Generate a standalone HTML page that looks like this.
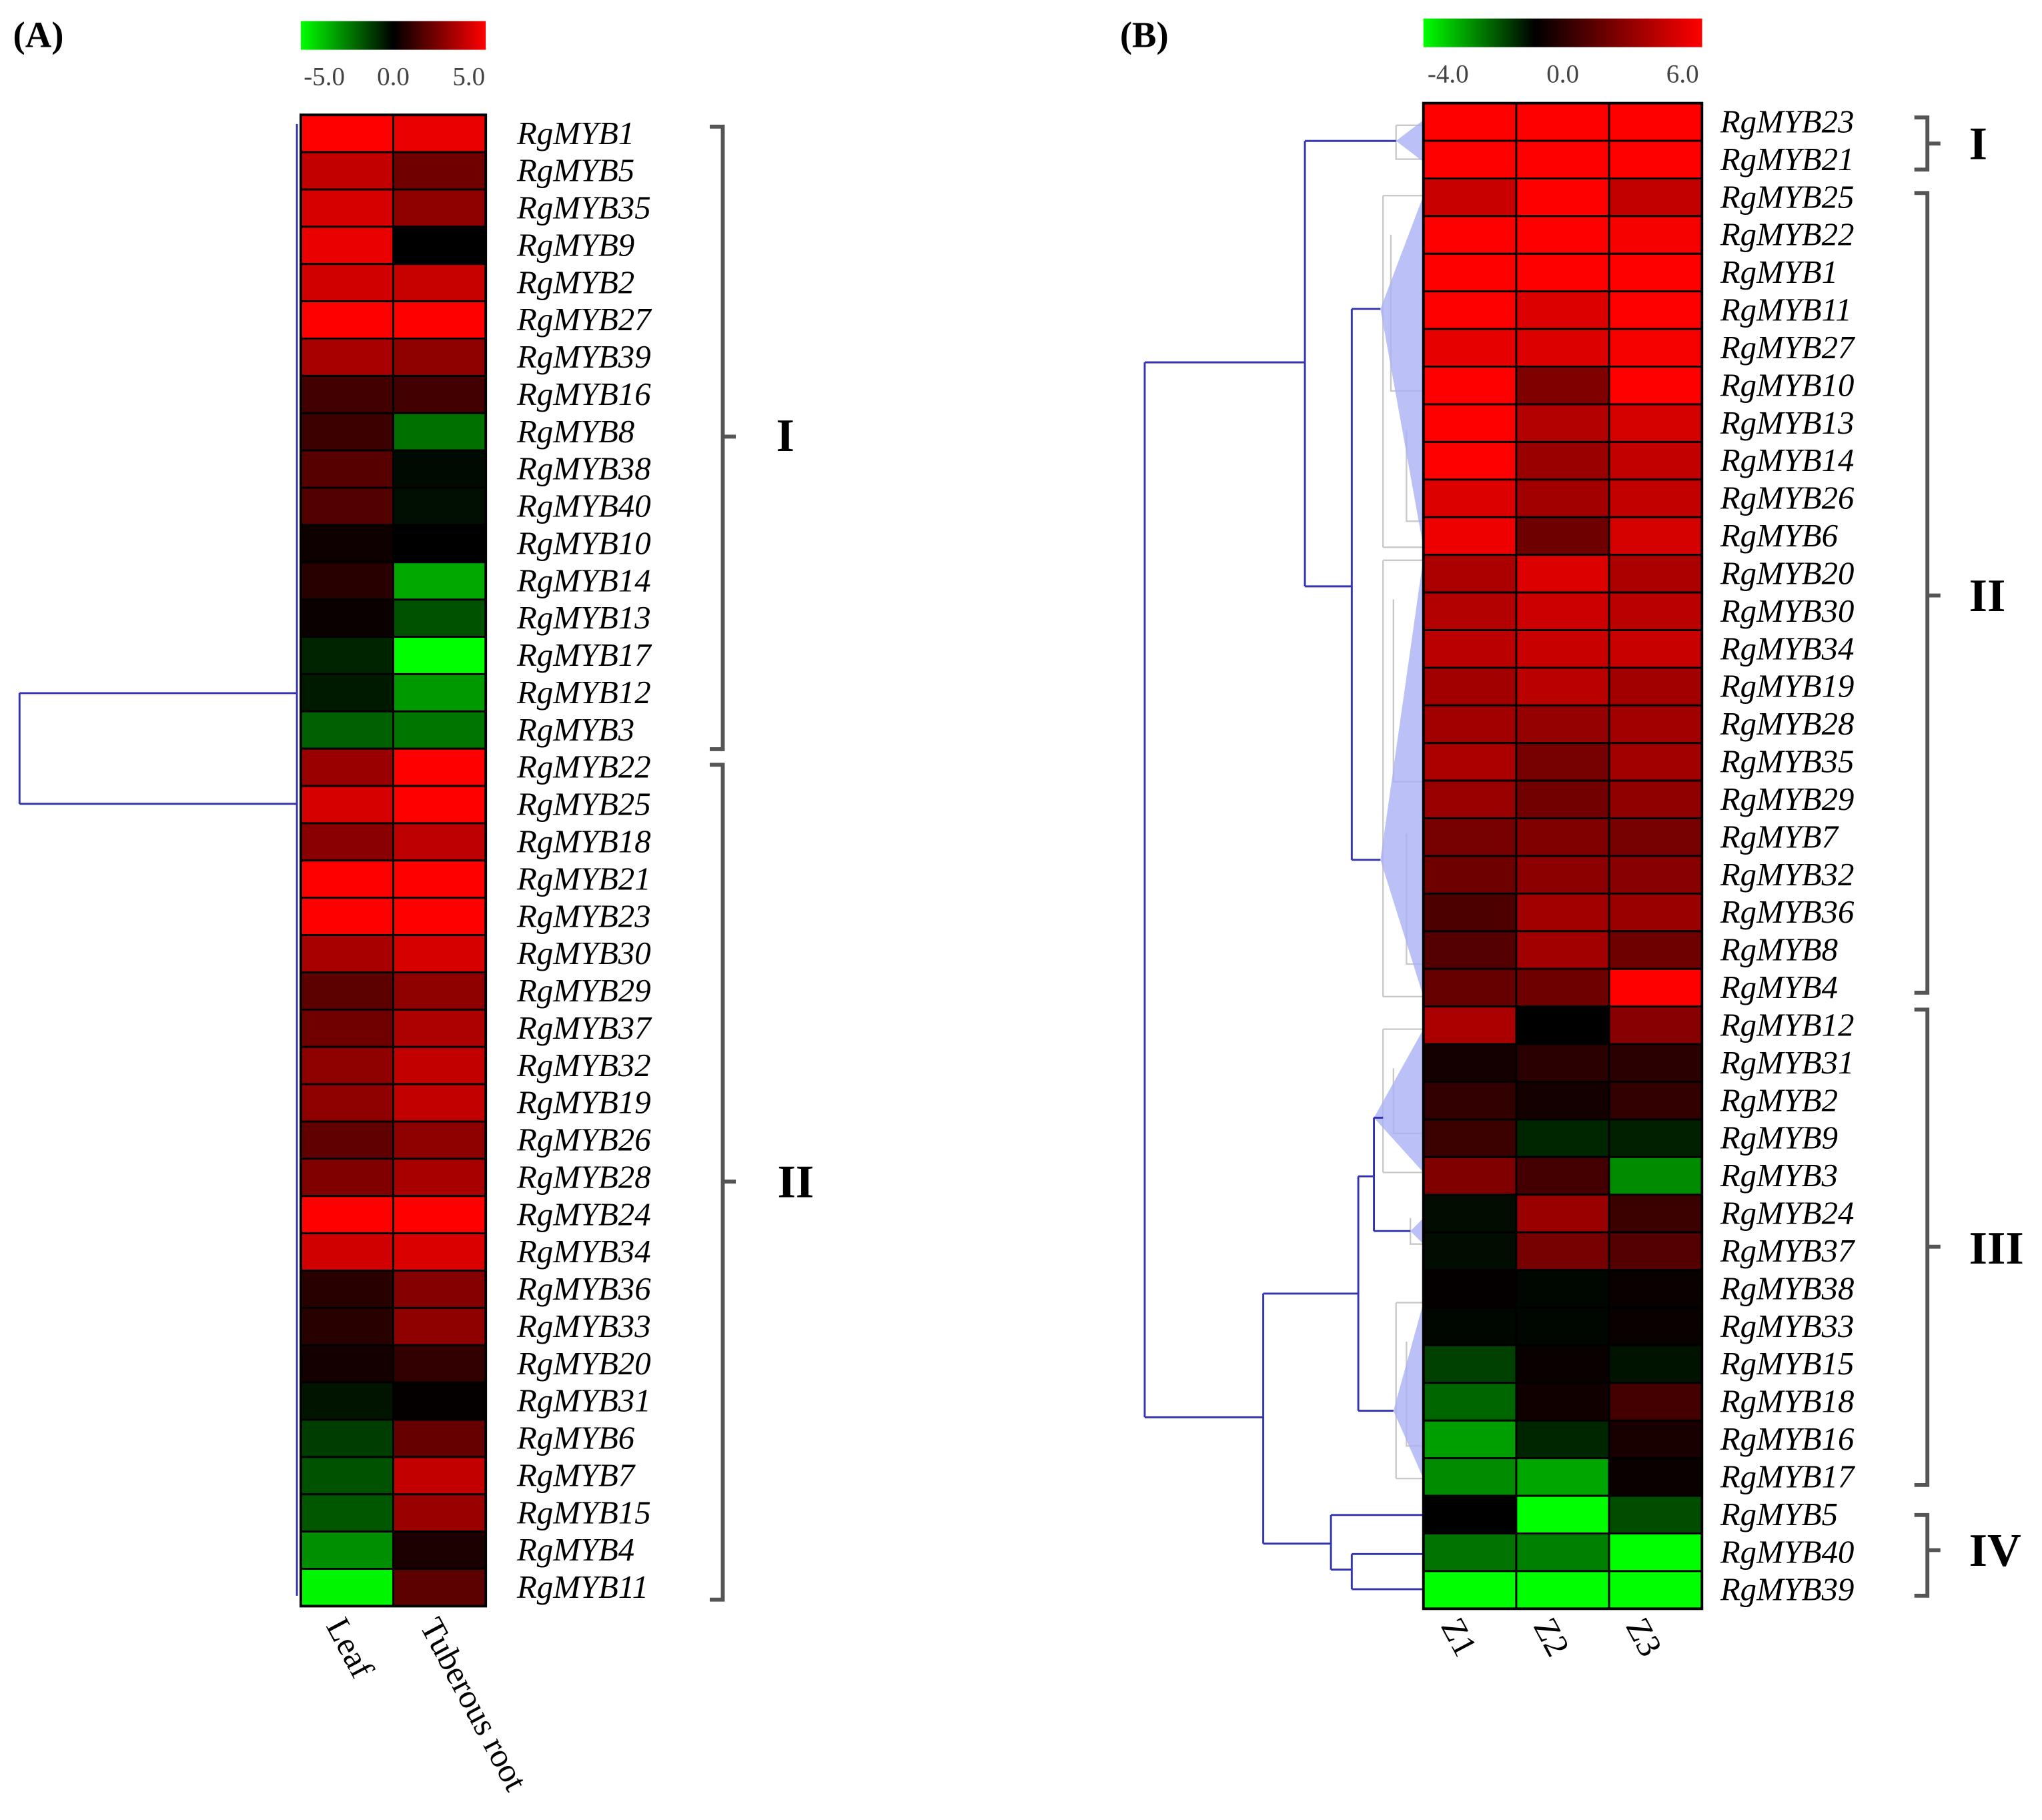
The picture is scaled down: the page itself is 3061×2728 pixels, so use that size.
<!DOCTYPE html>
<html><head><meta charset="utf-8"><style>
html,body{margin:0;padding:0;background:#fff;}
svg{display:block;}
text{font-family:"Liberation Serif",serif;}
</style></head><body>
<svg id="fig" width="3061" height="2728" viewBox="0 0 1568 1397" xmlns="http://www.w3.org/2000/svg">
<defs>
<linearGradient id="gA" x1="0" x2="1"><stop offset="0" stop-color="#00ff00"/><stop offset="0.5" stop-color="#000"/><stop offset="1" stop-color="#ff0000"/></linearGradient>
<linearGradient id="gB" x1="0" x2="1"><stop offset="0" stop-color="#00ff00"/><stop offset="0.4" stop-color="#000"/><stop offset="1" stop-color="#ff0000"/></linearGradient>
</defs>
<text x="10" y="36" font-size="28" font-weight="bold">(A)</text>
<text x="860" y="36" font-size="28" font-weight="bold">(B)</text>
<rect x="231" y="16" width="142" height="22" fill="url(#gA)"/>
<g font-size="20" fill="#444">
<text x="249" y="65" text-anchor="middle" font-family="Liberation Sans,sans-serif">-5.0</text>
<text x="302" y="65" text-anchor="middle" font-family="Liberation Sans,sans-serif">0.0</text>
<text x="360" y="65" text-anchor="middle" font-family="Liberation Sans,sans-serif">5.0</text></g>
<rect x="1093" y="14" width="214" height="22" fill="url(#gB)"/>
<g font-size="20" fill="#444">
<text x="1112" y="63" text-anchor="middle" font-family="Liberation Sans,sans-serif">-4.0</text>
<text x="1200" y="63" text-anchor="middle" font-family="Liberation Sans,sans-serif">0.0</text>
<text x="1292" y="63" text-anchor="middle" font-family="Liberation Sans,sans-serif">6.0</text></g>
<g id="dendB">
<g stroke="#c8c8c8" stroke-width="1.2" fill="none">
<path d="M1072,96V122H1093M1072,96H1093M1062,150V420M1062,150H1093M1062,420H1093M1068,180V300H1093M1080,330V400H1093M1062,430V765M1062,430H1093M1062,765H1093M1070,460V600H1093M1080,640V740H1093M1062,790V900M1062,790H1093M1062,900H1093M1070,820V870H1093M1083,935V955H1093M1072,1000V1135M1072,1000H1093M1072,1135H1093M1080,1030V1110H1093"/>
</g>
<g fill="#aab0f5" opacity="0.8">
<polygon points="1072,108 1093,92 1093,124"/>
<polygon points="1060,237 1093,150 1093,420"/>
<polygon points="1060,660 1093,428 1093,765"/>
<polygon points="1055,858 1093,790 1093,900"/>
<polygon points="1083,945 1093,935 1093,955"/>
<polygon points="1070,1083 1093,1000 1093,1135"/>
</g>
<g stroke="#3535b0" stroke-width="1.5" fill="none">
<path d="M879,278V1088M879,278H1002M879,1088H970M1002,108V450M1002,108H1072M1002,450H1038M1038,237V660M1038,237H1060M1038,660H1060M970,993V1185M970,993H1043M1043,903V1083M1043,903H1055M1043,1083H1070M1055,858V945M1055,858H1062M1055,945H1083M970,1185H1022M1022,1163V1205M1022,1163H1093M1022,1205H1038M1038,1193V1220M1038,1193H1093M1038,1220H1093"/>
</g></g>
<g stroke="#3535b0" stroke-width="1.5" fill="none">
<path d="M15,532V617M15,532H228M15,617H228M228,95V1225"/></g>
<g id="heatA"></g>
<g id="heatB"></g>
<g stroke="#555" stroke-width="3" fill="none">
<path d="M545,97H555V575H545M555,335H565"/>
<path d="M545,587H555V1228H545M555,907H565"/>
<path d="M1470,90H1480V130H1470M1480,110H1490"/>
<path d="M1470,148H1480V762H1470M1480,457H1490"/>
<path d="M1470,775H1480V1140H1470M1480,957H1490"/>
<path d="M1470,1163H1480V1225H1470M1480,1190H1490"/>
</g>
<g font-size="36" font-weight="bold">
<text x="596" y="346">I</text><text x="597" y="919">II</text>
<text x="1512" y="122">I</text><text x="1512" y="469">II</text>
<text x="1512" y="970">III</text><text x="1512" y="1202">IV</text></g>
<g font-size="26">
<text transform="translate(250,1248) rotate(62)">Leaf</text>
<text transform="translate(322,1248) rotate(62)">Tuberous root</text>
<text transform="translate(1106,1248) rotate(62)">Z1</text>
<text transform="translate(1177,1248) rotate(62)">Z2</text>
<text transform="translate(1248,1248) rotate(62)">Z3</text></g>
<script>
const genesA=["RgMYB1","RgMYB5","RgMYB35","RgMYB9","RgMYB2","RgMYB27","RgMYB39","RgMYB16","RgMYB8","RgMYB38","RgMYB40","RgMYB10","RgMYB14","RgMYB13","RgMYB17","RgMYB12","RgMYB3","RgMYB22","RgMYB25","RgMYB18","RgMYB21","RgMYB23","RgMYB30","RgMYB29","RgMYB37","RgMYB32","RgMYB19","RgMYB26","RgMYB28","RgMYB24","RgMYB34","RgMYB36","RgMYB33","RgMYB20","RgMYB31","RgMYB6","RgMYB7","RgMYB15","RgMYB4","RgMYB11"];
const leafA=[5,3.8,4.2,4.6,4.1,5,3.3,1.3,1.2,1.7,1.6,0.3,0.8,0.2,-0.7,-0.5,-1.9,3,4.2,2.7,5,5,3.3,1.8,2.2,2.8,2.8,1.9,2.5,5,4.1,0.8,0.8,0.4,-0.4,-1.2,-1.6,-1.7,-2.8,-4.8];
const rootA=[4.6,2.2,2.8,0,3.9,5,2.8,1.3,-2.2,-0.2,-0.3,0,-3.3,-1.6,-5,-3,-2.3,5,5,3.7,5,5,4.2,2.8,3.4,3.8,3.8,2.8,3.3,5,4.3,2.6,2.8,1,0.1,2,3.8,3,0.5,1.8];
const genesB=["RgMYB23","RgMYB21","RgMYB25","RgMYB22","RgMYB1","RgMYB11","RgMYB27","RgMYB10","RgMYB13","RgMYB14","RgMYB26","RgMYB6","RgMYB20","RgMYB30","RgMYB34","RgMYB19","RgMYB28","RgMYB35","RgMYB29","RgMYB7","RgMYB32","RgMYB36","RgMYB8","RgMYB4","RgMYB12","RgMYB31","RgMYB2","RgMYB9","RgMYB3","RgMYB24","RgMYB37","RgMYB38","RgMYB33","RgMYB15","RgMYB18","RgMYB16","RgMYB17","RgMYB5","RgMYB40","RgMYB39"];
const z1B=[6,6,4.7,6,6,6,5.4,6,6,6,5.2,5.6,4,4.2,4.4,3.8,3.8,4,3.6,2.8,2.6,1.8,2,2.4,4,0.5,1.2,1.4,3,-0.2,-0.2,0.1,-0.1,-1,-1.6,-2.5,-2.2,0,-1.8,-4];
const z2B=[6,6,6,6,6,5.2,5.2,3,4.2,3.6,3.8,2.6,5.2,4.8,4.7,4.4,3.5,2.8,2.7,3,3.3,3.8,3.8,2.6,0,1,0.5,-0.6,1.6,3.6,2.8,-0.1,-0.1,0.2,0.4,-0.6,-2.6,-4,-2,-4];
const z3B=[6,6,4.6,5.8,6,6,5.8,6,5,4.6,4.6,5,4,4.4,4.7,3.8,3.8,3.8,3.4,2.8,3.2,3.6,2.6,6,3.2,1,1.2,-0.5,-2.2,1.4,2,0.2,0.2,-0.3,1.6,0.6,0.2,-1.2,-4,-4];
const NS="http://www.w3.org/2000/svg";
function col(v,lo,hi){if(v>=0){const t=Math.min(1,v/hi);return `rgb(${Math.round(255*t)},0,0)`;}const t=Math.min(1,v/lo);return `rgb(0,${Math.round(255*t)},0)`;}
function draw(gid,genes,cols,x0,y0,cw,h,lo,hi,lx){
 const g=document.getElementById(gid);const rh=h/genes.length;
 genes.forEach((name,i)=>{
  cols.forEach((arr,j)=>{
   const r=document.createElementNS(NS,"rect");
   r.setAttribute("x",x0+j*cw);r.setAttribute("y",y0+i*rh);r.setAttribute("width",cw);r.setAttribute("height",rh);
   r.setAttribute("fill",col(arr[i],lo,hi));r.setAttribute("stroke","#000");r.setAttribute("stroke-width","1.5");
   
   
   g.appendChild(r);
  });
  const t=document.createElementNS(NS,"text");
  t.setAttribute("x",lx);t.setAttribute("y",y0+i*rh+rh/2+8);t.setAttribute("font-size","25");t.setAttribute("font-style","italic");
  t.textContent=name;
  
  
  g.appendChild(t);
 });
 const b=document.createElementNS(NS,"rect");
 b.setAttribute("x",x0);b.setAttribute("y",y0);b.setAttribute("width",cw*cols.length);b.setAttribute("height",h);b.setAttribute("fill","none");b.setAttribute("stroke","#000");b.setAttribute("stroke-width","2");
 
 
 g.appendChild(b);
}
draw("heatA",genesA,[leafA,rootA],231,88,71,1145,-5,5,397);
draw("heatB",genesB,[z1B,z2B,z3B],1093,79,71.3,1156,-4,6,1321);
</script>
</svg>
</body></html>
